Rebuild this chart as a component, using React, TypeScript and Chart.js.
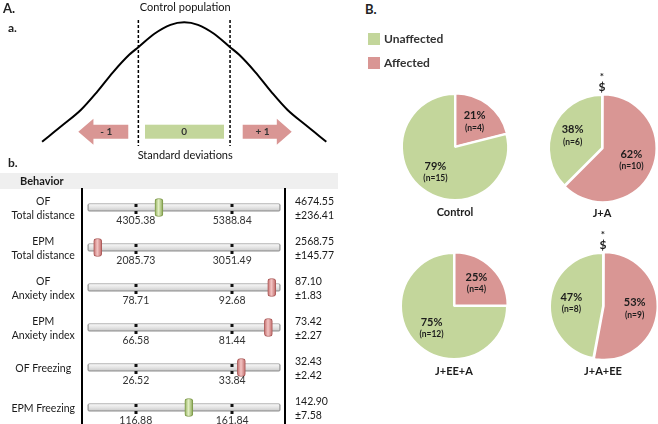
import React, { useEffect, useRef } from "react";
import { Chart, registerables } from "chart.js";

Chart.register(...registerables);

// ---------- Panel A.a : control population curve ----------
const curveSD = [-3.1, -2.65, -2.25, -1.9, -1.55, -1.2, -1.0, -0.65, -0.3, 0, 0.3, 0.65, 1.0, 1.2, 1.55, 1.9, 2.25, 2.65, 3.1];
const curveHeight = [0.065, 0.195, 0.315, 0.455, 0.61, 0.745, 0.805, 0.91, 0.98, 1.0, 0.98, 0.91, 0.805, 0.745, 0.61, 0.455, 0.315, 0.195, 0.065];
const sdMarkLabels = ["- 1", "0", "+ 1"];

// ---------- Panel A.b : behaviour ----------
const testLines = [
  ["OF", "Total distance"],
  ["EPM", "Total distance"],
  ["OF", "Anxiety index"],
  ["EPM", "Anxiety index"],
  ["OF Freezing"],
  ["EPM Freezing"],
];
const lowerBound = [4305.38, 2085.73, 78.71, 66.58, 26.52, 116.88];
const upperBound = [5388.84, 3051.49, 92.68, 81.44, 33.84, 161.84];
const controlMean = [4674.55, 2568.75, 87.1, 73.42, 32.43, 142.9];
const controlSem = [236.41, 145.77, 1.83, 2.27, 2.42, 7.58];
const groupZ = [-0.52, -1.79, 1.82, 1.75, 1.19, 0.1];

// ---------- Panel B ----------
const pieGroups = ["Control", "J+A", "J+EE+A", "J+A+EE"];
const statusLabels = ["Affected", "Unaffected"];
const affectedN = [4, 10, 4, 9];
const unaffectedN = [15, 6, 12, 8];
const affectedPct = [21, 62, 25, 53];
const unaffectedPct = [79, 38, 75, 47];
const starMark = ["", "*", "", "*"];
const dollarMark = ["", "$", "", "$"];

// ---------- styles ----------
const GREEN = "#c3d69b";
const RED = "#d99694";
const TEXT = "#1a1a1a";
const FONT = "Lato, 'Open Sans', sans-serif";
const MARK_HALF = 0.083;
const pieLayout = [
  { cx: 455, cy: 147 },
  { cx: 602, cy: 148 },
  { cx: 454, cy: 306 },
  { cx: 603, cy: 306 },
];

function text(ctx: CanvasRenderingContext2D, s: string, x: number, y: number, font: string, align: CanvasTextAlign = "center", color = TEXT) {
  ctx.save();
  ctx.font = font;
  ctx.fillStyle = color;
  ctx.textAlign = align;
  ctx.textBaseline = "middle";
  ctx.fillText(s, x, y);
  ctx.restore();
}

const ok = (...v: number[]) => v.every((n) => Number.isFinite(n));

function CurveChart() {
  const ref = useRef<HTMLCanvasElement>(null);
  useEffect(() => {
    const decor = {
      id: "curveDecor",
      afterDatasetsDraw(chart: any) {
        const ctx = chart.ctx as CanvasRenderingContext2D;
        const xs = (v: number) => chart.scales.x.getPixelForValue(v);
        ctx.save();
        ctx.strokeStyle = "#000";
        ctx.lineWidth = 1.5;
        ctx.setLineDash([3, 2]);
        [-1, 1].forEach((v) => {
          ctx.beginPath();
          ctx.moveTo(xs(v), 20);
          ctx.lineTo(xs(v), 146);
          ctx.stroke();
        });
        ctx.restore();
        const cy = 131.7;
        const bh = 7;
        const hh = 13;
        ctx.save();
        ctx.fillStyle = RED;
        ctx.beginPath();
        ctx.moveTo(xs(-2.31), cy);
        ctx.lineTo(xs(-1.98), cy - hh);
        ctx.lineTo(xs(-1.98), cy - bh);
        ctx.lineTo(xs(-1.22), cy - bh);
        ctx.lineTo(xs(-1.22), cy + bh);
        ctx.lineTo(xs(-1.98), cy + bh);
        ctx.lineTo(xs(-1.98), cy + hh);
        ctx.closePath();
        ctx.fill();
        ctx.beginPath();
        ctx.moveTo(xs(2.345), cy);
        ctx.lineTo(xs(2.02), cy - hh);
        ctx.lineTo(xs(2.02), cy - bh);
        ctx.lineTo(xs(1.276), cy - bh);
        ctx.lineTo(xs(1.276), cy + bh);
        ctx.lineTo(xs(2.02), cy + bh);
        ctx.lineTo(xs(2.02), cy + hh);
        ctx.closePath();
        ctx.fill();
        ctx.fillStyle = GREEN;
        ctx.fillRect(xs(-0.855), cy - bh, xs(0.868) - xs(-0.855), 2 * bh);
        ctx.restore();
        const labelPos = [-1.7, 0, 1.71];
        sdMarkLabels.forEach((s, i) => text(ctx, s, xs(labelPos[i]), cy + 0.5, `bold 10px ${FONT}`, "center", "#333"));
        text(ctx, "Control population", xs(0) + 1, 7, `11px ${FONT}`, "center", "#111");
        text(ctx, "Standard deviations", xs(0) + 1, 155, `11px ${FONT}`, "center", "#111");
      },
    };
    const chart = new Chart(ref.current!, {
      type: "line",
      data: {
        datasets: [
          {
            data: curveSD.map((x, i) => ({ x, y: curveHeight[i] })),
            borderColor: "#000",
            borderWidth: 2,
            pointRadius: 0,
            cubicInterpolationMode: "monotone",
            fill: false,
            clip: false,
          } as any,
        ],
      },
      options: {
        responsive: false,
        animation: false,
        events: [],
        layout: { padding: { left: 37.5, right: 9.1, top: 10, bottom: 20 } },
        scales: {
          x: { type: "linear", min: -3.2, max: 3.2, display: false },
          y: { type: "linear", min: 0, max: 1.096, display: false },
        },
        plugins: { legend: { display: false }, tooltip: { enabled: false } },
      },
      plugins: [decor],
    });
    return () => chart.destroy();
  }, []);
  return <canvas ref={ref} width={340} height={170} style={{ position: "absolute", left: 0, top: 0 }} />;
}

function BehaviorChart() {
  const ref = useRef<HTMLCanvasElement>(null);
  useEffect(() => {
    const decor = {
      id: "behaviorDecor",
      beforeDraw(chart: any) {
        const ctx = chart.ctx as CanvasRenderingContext2D;
        ctx.save();
        ctx.fillStyle = "#efefef";
        ctx.fillRect(0, 3, 338, 16);
        ctx.restore();
        text(ctx, "Behavior", 20, 11.5, `bold 11px ${FONT}`, "left");
      },
      afterDatasetsDraw(chart: any) {
        const ctx = chart.ctx as CanvasRenderingContext2D;
        const xs = (v: number) => chart.scales.x.getPixelForValue(v);
        const ys = (v: number) => chart.scales.y.getPixelForValue(v);
        testLines.forEach((_, i) => {
          const yc = ys(i);
          [-1, 1].forEach((v) => {
            ctx.fillStyle = "#111";
            ctx.fillRect(Math.round(xs(v)) - 1.5, yc - 3.5, 3, 3);
            ctx.fillRect(Math.round(xs(v)) - 1.5, yc + 3.5, 3, 3);
          });
          text(ctx, lowerBound[i].toFixed(2), xs(-1), yc + 13, `10.5px ${FONT}`, "center", "#333");
          text(ctx, upperBound[i].toFixed(2), xs(1), yc + 13, `10.5px ${FONT}`, "center", "#333");
        });
      },
    };
    const markerFill = (c: any) => {
      const z = groupZ[c.dataIndex] ?? 0;
      const red = Math.abs(z) > 1;
      const solid = red ? RED : GREEN;
      const sx = c.chart.scales?.x;
      if (!sx || !c.chart.chartArea) return solid;
      const x0 = sx.getPixelForValue(z - MARK_HALF);
      const x1 = sx.getPixelForValue(z + MARK_HALF);
      if (!ok(x0, x1) || x0 === x1) return solid;
      const g = c.chart.ctx.createLinearGradient(x0, 0, x1, 0);
      g.addColorStop(0, red ? "#c46f6e" : "#8fae5a");
      g.addColorStop(0.45, red ? "#f3c4c3" : "#e2efc3");
      g.addColorStop(1, red ? "#bf6968" : "#88a653");
      return g;
    };
    const trackFill = (c: any) => {
      const sy = c.chart.scales?.y;
      if (!sy || !c.chart.chartArea) return "#e0e0e0";
      const yc = sy.getPixelForValue(c.dataIndex);
      if (!ok(yc)) return "#e0e0e0";
      const g = c.chart.ctx.createLinearGradient(0, yc - 4, 0, yc + 4);
      g.addColorStop(0, "#fbfbfb");
      g.addColorStop(0.5, "#e4e4e4");
      g.addColorStop(1, "#c6c6c6");
      return g;
    };
    const axisFont = { family: FONT, size: 10.5, lineHeight: 1.35 };
    const chart = new Chart(ref.current!, {
      type: "bar",
      data: {
        datasets: [
          {
            label: "Group",
            data: groupZ.map((z, i) => ({ y: i, x: [z - MARK_HALF, z + MARK_HALF] })),
            barThickness: 18,
            grouped: false,
            order: 0,
            backgroundColor: markerFill,
            borderColor: (c: any) => (Math.abs(groupZ[c.dataIndex] ?? 0) > 1 ? "#ad5c5b" : "#7f9b4b"),
            borderWidth: 1,
            borderRadius: 3,
            borderSkipped: false,
          } as any,
          {
            label: "Control range",
            data: testLines.map((_, i) => ({ y: i, x: [-2, 2] })),
            barThickness: 8,
            grouped: false,
            order: 1,
            backgroundColor: trackFill,
            borderColor: "#9c9c9c",
            borderWidth: { top: 1, bottom: 1.5, left: 1.5, right: 1.5 },
            borderRadius: 2,
            borderSkipped: false,
          } as any,
        ],
      },
      options: {
        indexAxis: "y",
        responsive: false,
        animation: false,
        events: [],
        layout: { padding: { top: 19, bottom: 0, left: 0, right: 0 } },
        scales: {
          x: { type: "linear", min: -2.116, max: 2.095, display: false, offset: false },
          y: {
            type: "linear",
            position: "left",
            reverse: true,
            offset: false,
            min: -0.4625,
            max: 5.4125,
            afterBuildTicks: (s: any) => {
              s.ticks = testLines.map((_, i) => ({ value: i }));
            },
            afterFit: (s: any) => {
              s.width = 82;
              s.paddingTop = 0;
              s.paddingBottom = 0;
            },
            grid: { display: false, drawTicks: false, offset: false },
            border: { display: true, color: "#000", width: 2 },
            ticks: {
              autoSkip: false,
              crossAlign: "center",
              padding: 7,
              labelOffset: 1.5,
              color: TEXT,
              font: axisFont,
              callback: (v: any) => testLines[v as number] ?? "",
            },
          } as any,
          y2: {
            type: "linear",
            position: "right",
            reverse: true,
            offset: false,
            min: -0.4625,
            max: 5.4125,
            afterBuildTicks: (s: any) => {
              s.ticks = testLines.map((_, i) => ({ value: i }));
            },
            afterFit: (s: any) => {
              s.width = 55;
              s.paddingTop = 0;
              s.paddingBottom = 0;
            },
            grid: { display: false, drawTicks: false, offset: false },
            border: { display: true, color: "#000", width: 2 },
            ticks: {
              autoSkip: false,
              crossAlign: "near",
              padding: 10,
              labelOffset: 1,
              color: TEXT,
              font: axisFont,
              callback: (v: any) => {
                const i = v as number;
                if (controlMean[i] === undefined) return "";
                return [controlMean[i].toFixed(2), "\u00b1" + controlSem[i].toFixed(2)];
              },
            },
          } as any,
        },
        plugins: { legend: { display: false }, tooltip: { enabled: false } },
      },
      plugins: [decor],
    });
    return () => chart.destroy();
  }, []);
  return <canvas ref={ref} width={340} height={254} style={{ position: "absolute", left: 0, top: 170 }} />;
}

function PieChart({ g }: { g: number }) {
  const ref = useRef<HTMLCanvasElement>(null);
  useEffect(() => {
    const pct = [affectedPct[g], unaffectedPct[g]];
    const ns = [affectedN[g], unaffectedN[g]];
    const decor = {
      id: "pieDecor",
      afterDatasetsDraw(chart: any) {
        const ctx = chart.ctx as CanvasRenderingContext2D;
        const meta = chart.getDatasetMeta(0);
        let cx = 0;
        let cy = 0;
        meta.data.forEach((arc: any, k: number) => {
          const p = arc.getProps(["x", "y", "startAngle", "endAngle", "outerRadius"], true);
          cx = p.x;
          cy = p.y;
          const mid = (p.startAngle + p.endAngle) / 2;
          const r = p.outerRadius * 0.6;
          const px = p.x + Math.cos(mid) * r;
          const py = p.y + Math.sin(mid) * r;
          text(ctx, `${pct[k]}%`, px, py - 6, `bold 11px ${FONT}`, "center", "#1c1c1c");
          text(ctx, `(n=${ns[k]})`, px, py + 6, `bold 8.5px ${FONT}`, "center", "#1c1c1c");
        });
        text(ctx, pieGroups[g], cx, cy + 65, `bold 11px ${FONT}`, "center", "#1c1c1c");
        if (starMark[g]) text(ctx, starMark[g], cx, cy - 71, `bold 10px ${FONT}`, "center", "#1c1c1c");
        if (dollarMark[g]) text(ctx, dollarMark[g], cx, cy - 61, `bold 12px ${FONT}`, "center", "#1c1c1c");
      },
    };
    const chart = new Chart(ref.current!, {
      type: "pie",
      data: {
        labels: statusLabels,
        datasets: [
          {
            data: ns,
            backgroundColor: [RED, GREEN],
            borderColor: "#ffffff",
            borderWidth: 2,
            offset: [3, 0],
            radius: 53,
          } as any,
        ],
      },
      options: {
        responsive: false,
        animation: false,
        events: [],
        layout: { padding: 0 },
        plugins: { legend: { display: false }, tooltip: { enabled: false } },
      },
      plugins: [decor],
    });
    return () => chart.destroy();
  }, [g]);
  const { cx, cy } = pieLayout[g];
  return <canvas ref={ref} width={170} height={170} style={{ position: "absolute", left: cx - 85, top: cy - 85 }} />;
}

const letter: React.CSSProperties = { position: "absolute", fontFamily: FONT, fontWeight: 700, color: "#222", lineHeight: "14px", margin: 0 };

export default function App() {
  const legendItems = [
    { label: statusLabels[1], color: GREEN },
    { label: statusLabels[0], color: RED },
  ];
  return (
    <div style={{ position: "fixed", left: 0, top: 0, width: 658, height: 424, overflow: "hidden", background: "#fff" }}>
      <CurveChart />
      <BehaviorChart />
      {pieGroups.map((_, g) => (
        <PieChart key={g} g={g} />
      ))}
      <div style={{ ...letter, left: 3, top: 1, fontSize: 13 }}>A.</div>
      <div style={{ ...letter, left: 8, top: 21, fontSize: 12 }}>a.</div>
      <div style={{ ...letter, left: 8, top: 156, fontSize: 12 }}>b.</div>
      <div style={{ ...letter, left: 365, top: 2, fontSize: 13 }}>B.</div>
      {legendItems.map((it, i) => (
        <div key={it.label} style={{ position: "absolute", left: 368, top: 33 + i * 23.5, height: 12, display: "flex", alignItems: "center" }}>
          <div style={{ width: 12, height: 12, background: it.color }} />
          <span style={{ marginLeft: 4, fontFamily: FONT, fontWeight: 700, fontSize: 12, color: "#333", lineHeight: "12px" }}>{it.label}</span>
        </div>
      ))}
    </div>
  );
}
